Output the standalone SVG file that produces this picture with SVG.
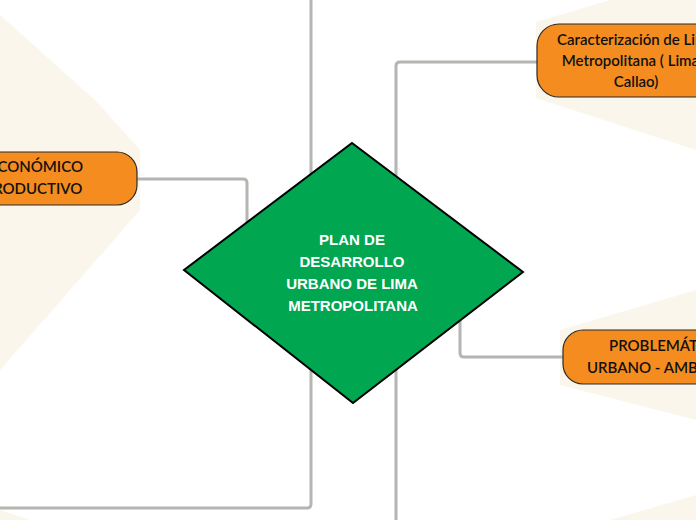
<svg xmlns="http://www.w3.org/2000/svg" width="696" height="520" viewBox="0 0 696 520">
<style>
.bg{fill:#faf6ec}
.c{fill:none;stroke:#b4b6b2;stroke-width:3;stroke-linejoin:round}
.n{fill:#f58c1f;stroke:#2a2a2a;stroke-width:1.2}
.t{font-family:Lato,"Open Sans",sans-serif;font-size:15px;fill:#111;font-weight:600}
.m{font-family:"Liberation Sans",Arial,sans-serif;font-size:15px;font-weight:bold;fill:#fff;text-anchor:middle}
</style>
<rect width="696" height="520" fill="#fff"/>
<polygon class="bg" points="536,22 610,0 696,0 696,150 536,98"/>
<polygon class="bg" points="0,15 95,100 140,150 140,210 0,370"/>
<polygon class="bg" points="560,330 696,290 696,420 560,385"/>
<polygon class="bg" points="610,520 696,495 696,520"/>
<polygon class="bg" points="0,510 30,520 0,520"/>
<g id="connectors">
<path class="c" d="M537,62 H400 Q396,62 396,66 V520"/>
<path class="c" d="M311,0 V504 Q311,508 307,508 H0"/>
<path class="c" d="M137,179 H243 Q247,179 247,183 V228"/>
<path class="c" d="M460,320 V353 Q460,357 464,357 H563"/>
</g>
<g id="central">
<polygon points="352,143 523,272 353,403 184,270" fill="#00a650" stroke="#000" stroke-width="2"/>
<text class="m" x="352" y="245">PLAN DE</text>
<text class="m" x="352" y="267">DESARROLLO</text>
<text class="m" x="352" y="289">URBANO DE LIMA</text>
<text class="m" x="353" y="311">METROPOLITANA</text>
</g>
<g id="caracterizacion">
<rect class="n" x="537" y="24" width="190" height="73" rx="22"/>
<text class="t" x="636" y="45" text-anchor="middle">Caracterización de Lima</text>
<text class="t" x="636" y="66" text-anchor="middle">Metropolitana ( Lima y</text>
<text class="t" x="636" y="87" text-anchor="middle">Callao)</text>
</g>
<g id="economico">
<rect class="n" x="-60" y="152" width="197" height="53" rx="20"/>
<text class="t" x="-11" y="172">ECONÓMICO</text>
<text class="t" x="-16" y="194">PRODUCTIVO</text>
</g>
<g id="problematica">
<rect class="n" x="563" y="330" width="190" height="54" rx="20"/>
<text class="t" x="609" y="351">PROBLEMÁTICA</text>
<text class="t" x="587" y="373">URBANO - AMBIENTAL</text>
</g>
</svg>
